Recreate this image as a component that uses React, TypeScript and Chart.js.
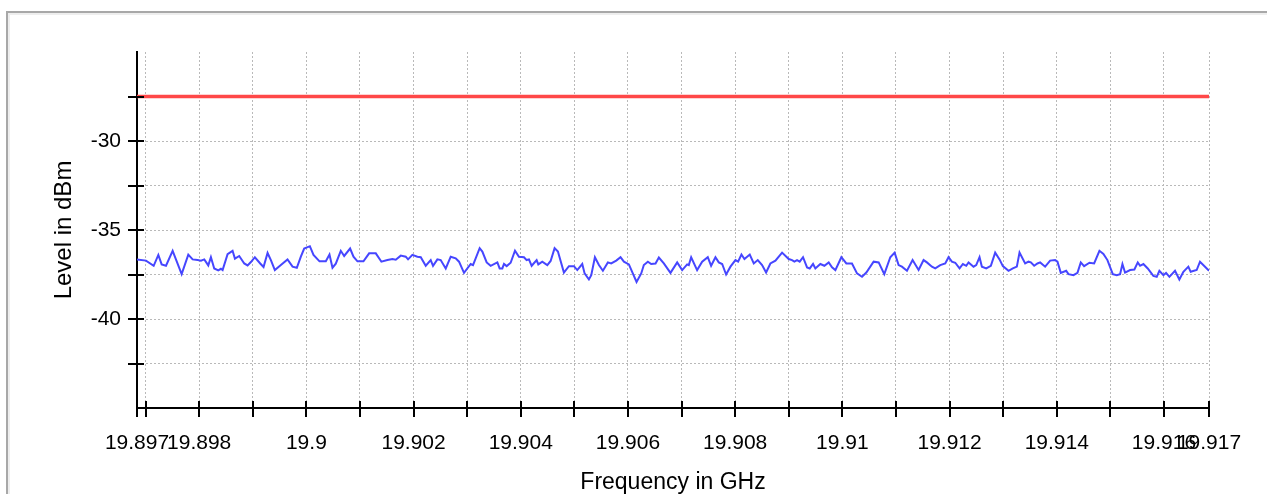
import React, { useEffect, useRef } from 'react';
import { Chart, registerables } from 'chart.js';

Chart.register(...registerables);

// Frequency axis (GHz)
const START_GHZ = 19.89684;
const STOP_GHZ = 19.91684;
const X_TICKS_GHZ = [
  19.897, 19.898, 19.899, 19.9, 19.901, 19.902, 19.903, 19.904, 19.905, 19.906,
  19.907, 19.908, 19.909, 19.91, 19.911, 19.912, 19.913, 19.914, 19.915, 19.916,
];
const X_LABELLED_GHZ = [19.898, 19.9, 19.902, 19.904, 19.906, 19.908, 19.91, 19.912, 19.914, 19.916];

// Level axis (dBm)
const Y_MIN = -45;
const Y_MAX = -25;
const Y_TICKS = [-42.5, -40, -37.5, -35, -32.5, -30, -27.5];
const Y_LABELLED = [-40, -35, -30];

// Limit line (dBm)
const LIMIT_DBM = -27.5;

// Measured trace: frequency offset from start (MHz) and level (dBm)
const traceOffsetMHz = [
  0, 0.168, 0.311, 0.398, 0.46, 0.541, 0.665, 0.833, 0.957, 1.038, 1.131, 1.193, 1.255, 1.33, 1.379, 1.441, 1.516, 1.566, 1.597, 1.69,
  1.783, 1.827, 1.907, 2.001, 2.063, 2.125, 2.199, 2.299, 2.361, 2.436, 2.498, 2.572, 2.684, 2.808, 2.902, 2.982, 3.057, 3.119, 3.225, 3.293,
  3.405, 3.523, 3.591, 3.647, 3.709, 3.802, 3.865, 3.976, 4.039, 4.113, 4.225, 4.331, 4.455, 4.56, 4.672, 4.765, 4.828,
  4.921, 5.014, 5.057, 5.138, 5.231, 5.294, 5.387, 5.48, 5.523, 5.604, 5.666, 5.76, 5.853, 5.946, 6.008, 6.101, 6.226, 6.269, 6.393, 6.443,
  6.524, 6.598, 6.723, 6.766, 6.816, 6.847, 6.897, 6.971, 7.052, 7.126, 7.22, 7.269, 7.313, 7.363, 7.456, 7.487, 7.561, 7.655, 7.717, 7.791,
  7.853, 7.965, 8.058, 8.152, 8.214, 8.307, 8.351, 8.431, 8.475, 8.543, 8.618, 8.692, 8.785, 8.847, 8.941, 9.021, 9.084, 9.177, 9.32, 9.407,
  9.456, 9.531, 9.593, 9.674, 9.736, 9.829,
  9.953, 10.078, 10.171, 10.264, 10.295, 10.339, 10.45, 10.544, 10.649, 10.711, 10.792, 10.854, 10.917, 10.991, 11.072, 11.165, 11.215, 11.277, 11.333, 11.432,
  11.507, 11.581, 11.662, 11.737, 11.817, 11.911, 12.035, 12.159, 12.221, 12.265, 12.314, 12.364, 12.426, 12.501, 12.551, 12.613, 12.656, 12.749, 12.824, 12.905,
  12.967, 13.029, 13.141, 13.234, 13.339, 13.433, 13.526, 13.607, 13.743, 13.837, 13.942, 14.054, 14.135, 14.209, 14.271, 14.365, 14.47, 14.582, 14.675, 14.737,
  14.831, 14.893,
  14.986, 15.079, 15.141, 15.203, 15.266, 15.346, 15.409, 15.471, 15.514, 15.607, 15.657, 15.719, 15.763, 15.844, 15.93, 16.011, 16.092, 16.154, 16.26, 16.34,
  16.415, 16.465, 16.57, 16.632, 16.676, 16.738, 16.8, 16.85, 16.943, 17.036, 17.13, 17.173, 17.235, 17.335, 17.378, 17.471, 17.546, 17.608, 17.67, 17.77,
  17.857, 17.956, 18.03, 18.105, 18.205, 18.279, 18.341, 18.385, 18.434, 18.528, 18.608, 18.671, 18.714, 18.776, 18.857, 18.962, 19.025, 19.074, 19.149, 19.199,
  19.261, 19.366, 19.447, 19.522, 19.615, 19.658, 19.77, 19.832, 20.0,
];

const traceLevelDbm = [
  -36.65, -36.72, -37.01, -36.4, -36.93, -37.01, -36.17, -37.48, -36.38, -36.65, -36.69, -36.72, -36.65, -36.99, -36.53, -37.16, -37.27, -37.18, -37.25, -36.36,
  -36.17, -36.61, -36.46, -36.88, -36.99, -36.8, -36.53, -36.88, -37.08, -36.29, -36.69, -37.25, -36.97, -36.65, -37.06, -37.12, -36.5, -36.04, -35.91, -36.4,
  -36.76, -36.76, -36.38, -37.12, -36.89, -36.17, -36.46, -36.04, -36.5, -36.76, -36.76, -36.31, -36.31, -36.78, -36.69, -36.63, -36.67,
  -36.44, -36.5, -36.65, -36.4, -36.5, -36.53, -37.01, -36.69, -37.01, -36.65, -36.69, -37.16, -36.5, -36.59, -36.78, -37.41, -36.91, -36.97, -36.02, -36.21,
  -36.82, -37.01, -36.82, -37.16, -37.16, -36.91, -37.03, -36.84, -36.16, -36.5, -36.53, -36.69, -36.65, -37.01, -36.69, -36.93, -36.78, -36.97, -36.74, -36.02,
  -36.21, -37.39, -37.03, -37.03, -37.25, -36.91, -37.44, -37.78, -37.54, -36.53, -36.97, -37.29, -36.82, -36.88, -36.72, -36.53, -36.78, -36.93, -37.92, -37.44,
  -36.97, -36.78, -36.91, -36.88, -36.55, -36.88,
  -37.41, -36.82, -37.25, -36.93, -36.97, -36.53, -37.25, -36.78, -36.53, -37.01, -36.53, -36.82, -36.91, -37.5, -37.06, -36.69, -36.78, -36.38, -36.63, -36.38,
  -36.88, -36.69, -36.97, -37.39, -36.88, -36.72, -36.27, -36.63, -36.69, -36.78, -36.69, -36.78, -36.53, -37.1, -37.16, -36.91, -37.16, -36.91, -37.01, -36.82,
  -37.1, -37.25, -36.53, -36.88, -36.88, -37.44, -37.63, -37.39, -36.78, -36.82, -37.48, -36.53, -36.27, -36.97, -37.06, -37.29, -36.69, -37.25, -36.69, -36.82,
  -37.06, -37.16,
  -36.97, -36.88, -36.53, -36.78, -36.84, -37.16, -36.91, -37.01, -36.82, -37.06, -36.97, -36.53, -37.06, -37.16, -37.01, -36.27, -36.65, -37.03, -37.29, -37.16,
  -37.06, -36.27, -36.88, -36.78, -36.82, -37.01, -36.88, -36.82, -37.06, -36.72, -36.69, -36.78, -37.41, -37.29, -37.48, -37.54, -37.41, -36.82, -37.03, -36.84,
  -36.88, -36.17, -36.34, -36.69, -37.48, -37.54, -37.48, -36.91, -37.39, -37.25, -37.22, -36.82, -37.01, -36.91, -37.16, -37.58, -37.63, -37.29, -37.54, -37.41,
  -37.63, -37.29, -37.78, -37.35, -37.06, -37.35, -37.25, -36.78, -37.29,
];

const FONT = "'Liberation Sans', Arial, Helvetica, sans-serif";

const crossTicksPlugin = {
  id: 'crossTicks',
  afterDraw(chart: any) {
    const { ctx, chartArea } = chart;
    const xs = chart.scales.x;
    const ys = chart.scales.y;
    ctx.save();
    ctx.strokeStyle = '#000';
    ctx.lineWidth = 2;
    ctx.beginPath();
    xs.ticks.forEach((t: any) => {
      const px = Math.round(xs.getPixelForValue(t.value));
      ctx.moveTo(px, chartArea.bottom - 7);
      ctx.lineTo(px, chartArea.bottom + 9);
    });
    ys.ticks.forEach((t: any) => {
      const py = Math.round(ys.getPixelForValue(t.value));
      ctx.moveTo(chartArea.left - 9, py);
      ctx.lineTo(chartArea.left + 7, py);
    });
    ctx.stroke();
    ctx.restore();
  },
};

export default function App() {
  const canvasRef = useRef<HTMLCanvasElement | null>(null);

  useEffect(() => {
    if (!canvasRef.current) return;
    const n = Math.min(traceOffsetMHz.length, traceLevelDbm.length);
    const trace = [] as { x: number; y: number }[];
    for (let i = 0; i < n; i++) {
      trace.push({ x: START_GHZ + traceOffsetMHz[i] / 1000, y: traceLevelDbm[i] });
    }
    const limit = [
      { x: START_GHZ, y: LIMIT_DBM },
      { x: STOP_GHZ, y: LIMIT_DBM },
    ];

    const chart = new Chart(canvasRef.current, {
      type: 'line',
      data: {
        datasets: [
          {
            data: trace,
            borderColor: '#4646ff',
            borderWidth: 2,
            pointRadius: 0,
            tension: 0,
          },
          {
            data: limit,
            borderColor: '#ff4848',
            borderWidth: 3.5,
            pointRadius: 0,
            tension: 0,
          },
        ],
      },
      plugins: [crossTicksPlugin],
      options: {
        animation: false,
        responsive: false,
        devicePixelRatio: 1,
        events: [],
        layout: { padding: { left: 0, top: 52, right: 58, bottom: 0 } },
        plugins: {
          legend: { display: false },
          tooltip: { enabled: false },
        },
        scales: {
          x: {
            type: 'linear',
            min: START_GHZ,
            max: STOP_GHZ,
            afterBuildTicks: (scale: any) => {
              scale.ticks = [START_GHZ, ...X_TICKS_GHZ, STOP_GHZ].map((v) => ({ value: v }));
            },
            afterFit: (scale: any) => {
              scale.height = 86;
            },
            grid: { color: '#b9b9b9', lineWidth: 1, drawTicks: false },
            border: { display: true, color: '#000', width: 2, dash: [2, 2] },
            ticks: {
              autoSkip: false,
              maxRotation: 0,
              minRotation: 0,
              padding: 23,
              color: '#000',
              font: { family: FONT, size: 21 },
              callback: (value: any, index: number, ticks: any[]) => {
                const v = Number(value);
                if (index === 0 || index === ticks.length - 1) return v.toFixed(3);
                const hit = X_LABELLED_GHZ.find((l) => Math.abs(l - v) < 1e-7);
                return hit !== undefined ? String(hit) : '';
              },
            },
            title: {
              display: true,
              text: 'Frequency in GHz',
              color: '#000',
              font: { family: FONT, size: 23, lineHeight: 1 },
              padding: { top: 0, bottom: 0 },
            },
          },
          y: {
            type: 'linear',
            min: Y_MIN,
            max: Y_MAX,
            afterBuildTicks: (scale: any) => {
              scale.ticks = Y_TICKS.map((v) => ({ value: v }));
            },
            afterFit: (scale: any) => {
              scale.width = 137;
            },
            grid: { color: '#b9b9b9', lineWidth: 1, drawTicks: false },
            border: { display: true, color: '#000', width: 2, dash: [2, 2] },
            ticks: {
              autoSkip: false,
              padding: 16,
              color: '#000',
              font: { family: FONT, size: 21 },
              callback: (value: any) => {
                const v = Number(value);
                return Y_LABELLED.some((l) => Math.abs(l - v) < 1e-7) ? String(v) : '';
              },
            },
            title: {
              display: true,
              text: 'Level in dBm',
              color: '#000',
              font: { family: FONT, size: 24, lineHeight: 1.2 },
              padding: { top: 50, bottom: 0 },
            },
          },
        },
      },
    } as any);

    return () => chart.destroy();
  }, []);

  return (
    <div style={{ position: 'fixed', left: 0, top: 0, width: 1267, height: 494, overflow: 'hidden', background: '#fff' }}>
      <div
        style={{
          position: 'absolute',
          left: 6,
          top: 11,
          width: 1400,
          height: 700,
          borderTop: '2px solid #a8a8a8',
          borderLeft: '2px solid #a8a8a8',
          boxShadow: 'inset 2px 2px 0 #eeeeee',
          boxSizing: 'border-box',
        }}
      />
      <canvas
        ref={canvasRef}
        width={1267}
        height={494}
        style={{ position: 'absolute', left: 0, top: 0, width: 1267, height: 494, display: 'block' }}
      />
    </div>
  );
}
